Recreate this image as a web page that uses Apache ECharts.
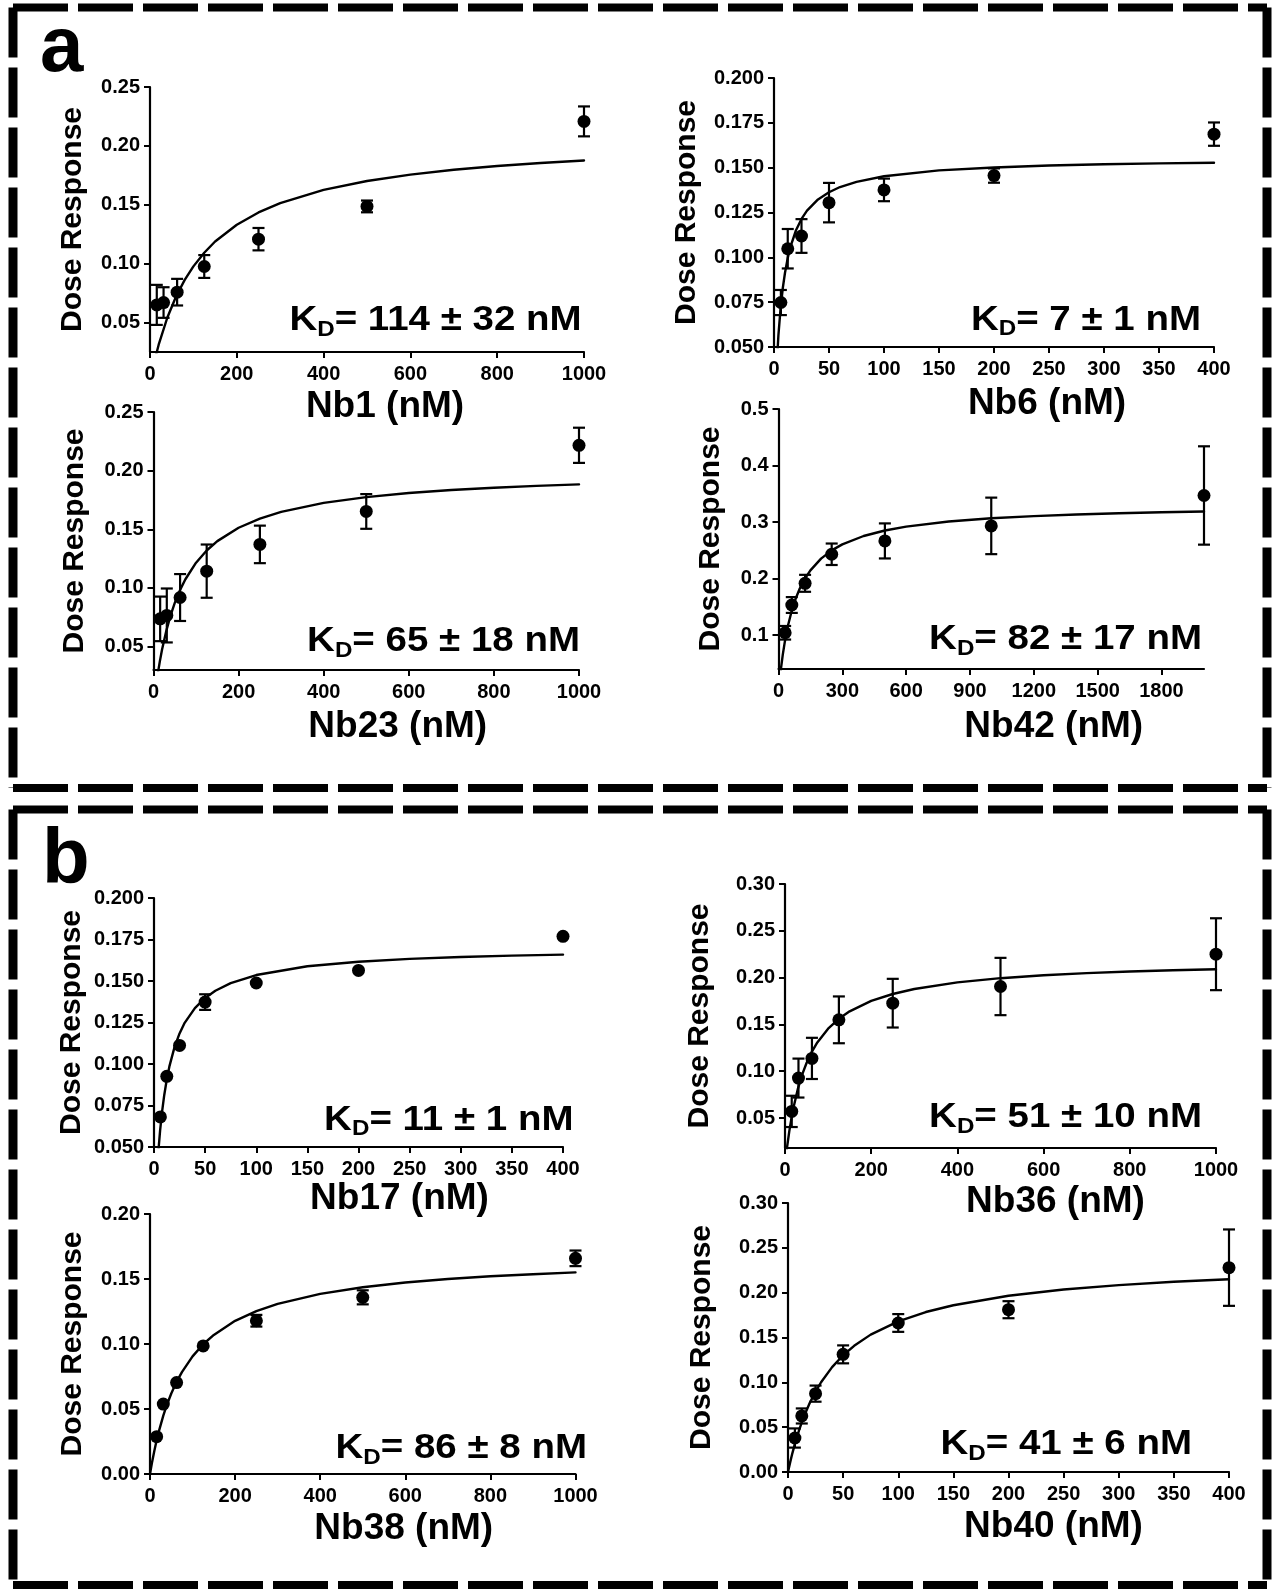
<!DOCTYPE html>
<html><head><meta charset="utf-8">
<script src="https://cdn.jsdelivr.net/npm/echarts@6/dist/echarts.min.js"></script>
<style>html,body{margin:0;padding:0;background:#fff}#chart{width:1275px;height:1589px}</style>
</head><body><div id="chart"></div>
<script>
// ---------- DATA ----------
const conc1000 = [15.625, 31.25, 62.5, 125, 250, 500, 1000];
const conc400 = [6.25, 12.5, 25, 50, 100, 200, 400];
const conc2000 = [31.25, 62.5, 125, 250, 500, 1000, 2000];

const xTicks1000 = ['0','200','400','600','800','1000'];
const xTicks400 = ['0','50','100','150','200','250','300','350','400'];
const xTicks2000 = ['0','300','600','900','1200','1500','1800'];

// Nb1
const nb1Mean = [0.065, 0.067, 0.0758, 0.0976, 0.1208, 0.1486, 0.2208];
const nb1Err = [0.017, 0.013, 0.0113, 0.0097, 0.0095, 0.005, 0.0127];
const nb1FitX = [0,10,20,40,60,80,100,125,150,200,250,300,400,500,600,700,800,900,1000];
const nb1FitY = [0,0.0169,0.0312,0.0543,0.0721,0.0862,0.0977,0.1093,0.1188,0.1331,0.1435,0.1514,0.1626,0.1702,0.1756,0.1797,0.1829,0.1855,0.1876];
const nb1YTicks = ['0.05','0.10','0.15','0.20','0.25'];
const nb1Kd = '114 ± 32';

// Nb6
const nb6Mean = [0.0748, 0.1048, 0.1119, 0.1305, 0.1376, 0.1456, 0.1687];
const nb6Err = [0.007, 0.011, 0.0094, 0.011, 0.0063, 0.004, 0.0065];
const nb6FitX = [0,2,4,6,8,10,12.5,15,20,25,30,40,50,60,75,100,150,200,250,300,350,400];
const nb6FitY = [0,0.0345,0.0565,0.0717,0.0829,0.0914,0.0996,0.1060,0.1151,0.1214,0.1260,0.1323,0.1363,0.1392,0.1421,0.1452,0.1485,0.1501,0.1512,0.1519,0.1524,0.1527];
const nb6YTicks = ['0.050','0.075','0.100','0.125','0.150','0.175','0.200'];
const nb6Kd = '7 ± 1';

// Nb23
const nb23Mean = [0.0736, 0.0765, 0.0918, 0.1143, 0.1371, 0.1652, 0.2216];
const nb23Err = [0.019, 0.023, 0.020, 0.0227, 0.016, 0.0148, 0.015];
const nb23FitX = [0,5,10,15,20,30,40,50,62.5,75,100,125,150,200,250,300,400,500,600,700,800,900,1000];
const nb23FitY = [0,0.0143,0.0267,0.0376,0.0472,0.0633,0.0764,0.0872,0.0983,0.1074,0.1215,0.1319,0.1399,0.1513,0.1591,0.1648,0.1725,0.1774,0.1809,0.1835,0.1854,0.1870,0.1883];
const nb23YTicks = ['0.05','0.10','0.15','0.20','0.25'];
const nb23Kd = '65 ± 18';

// Nb42
const nb42Mean = [0.1041, 0.1532, 0.1916, 0.2430, 0.2666, 0.2932, 0.347];
const nb42Err = [0.012, 0.014, 0.015, 0.019, 0.031, 0.050, 0.087];
const nb42FitX = [0,10,20,30,45,62.5,80,100,125,150,200,250,300,400,500,600,800,1000,1200,1400,1600,1800,2000];
const nb42FitY = [0,0.0361,0.0650,0.0888,0.1175,0.1435,0.1638,0.1823,0.2003,0.2145,0.2352,0.2498,0.2605,0.2753,0.2850,0.2918,0.3009,0.3066,0.3105,0.3133,0.3155,0.3172,0.3186];
const nb42YTicks = ['0.1','0.2','0.3','0.4','0.5'];
const nb42Kd = '82 ± 17';

// Nb17
const nb17Mean = [0.0681, 0.0926, 0.1112, 0.1373, 0.1488, 0.1564, 0.1769];
const nb17Err = [0, 0, 0, 0.0047, 0, 0, 0];
const nb17FitX = [0,2,4,6,8,10,12.5,15,20,25,30,40,50,60,75,100,150,200,250,300,350,400];
const nb17FitY = [0,0.0262,0.0455,0.0602,0.0718,0.0812,0.0907,0.0984,0.1100,0.1184,0.1248,0.1337,0.1398,0.1441,0.1487,0.1536,0.1589,0.1616,0.1633,0.1645,0.1653,0.1659];
const nb17YTicks = ['0.050','0.075','0.100','0.125','0.150','0.175','0.200'];
const nb17Kd = '11 ± 1';

// Nb36
const nb36Mean = [0.0571, 0.0927, 0.1137, 0.1549, 0.1727, 0.1905, 0.225];
const nb36Err = [0.0167, 0.0208, 0.022, 0.025, 0.026, 0.0306, 0.0384];
const nb36FitX = [0,5,10,15.6,20,30,40,50,62.5,75,100,125,150,200,250,300,400,500,600,700,800,900,1000];
const nb36FitY = [0,0.0196,0.0360,0.0515,0.0619,0.0814,0.0966,0.1088,0.1210,0.1308,0.1455,0.1560,0.1640,0.1751,0.1825,0.1878,0.1949,0.1994,0.2025,0.2048,0.2065,0.2079,0.2090];
const nb36YTicks = ['0.05','0.10','0.15','0.20','0.25','0.30'];
const nb36Kd = '51 ± 10';

// Nb38
const nb38Mean = [0.0287, 0.0538, 0.0703, 0.0985, 0.1179, 0.1359, 0.1659];
const nb38Err = [0, 0, 0, 0, 0.0045, 0.0054, 0.006];
const nb38FitX = [0,5,10,15.6,20,31.25,40,50,62.5,75,100,125,150,200,250,300,400,500,600,700,800,900,1000];
const nb38FitY = [0,0.0093,0.0175,0.0259,0.0318,0.0449,0.0535,0.0619,0.0709,0.0784,0.0905,0.0998,0.1070,0.1178,0.1253,0.1309,0.1386,0.1437,0.1473,0.1500,0.1521,0.1537,0.1551];
const nb38YTicks = ['0.00','0.05','0.10','0.15','0.20'];
const nb38Kd = '86 ± 8';

// Nb40
const nb40Mean = [0.0379, 0.0625, 0.0874, 0.1312, 0.1662, 0.181, 0.2279];
const nb40Err = [0.0107, 0.0084, 0.009, 0.010, 0.0099, 0.0095, 0.0426];
const nb40FitX = [0,2,4,6.25,10,12.5,15,20,25,30,40,50,60,75,100,125,150,200,250,300,350,400];
const nb40FitY = [0,0.0110,0.0211,0.0313,0.0465,0.0553,0.0635,0.0777,0.0897,0.1001,0.1170,0.1302,0.1407,0.1532,0.1680,0.1784,0.1860,0.1966,0.2035,0.2084,0.2121,0.2149];
const nb40YTicks = ['0.00','0.05','0.10','0.15','0.20','0.25','0.30'];
const nb40Kd = '41 ± 6';

// ---------- LAYOUT ----------
const FONT = '"Liberation Sans", Arial, Helvetica, sans-serif';
const panels = [
  {name:'Nb1 (nM)', conc:conc1000, mean:nb1Mean, err:nb1Err, fx:nb1FitX, fy:nb1FitY, xt:xTicks1000, yt:nb1YTicks, yMin:0.025, yMax:0.25, xMax:1000, kd:nb1Kd,
   g:[150,87,434,265], yGap:62, xGap:36, xShift:36, kdPos:[581.6,320.5]},
  {name:'Nb6 (nM)', conc:conc400, mean:nb6Mean, err:nb6Err, fx:nb6FitX, fy:nb6FitY, xt:xTicks400, yt:nb6YTicks, yMin:0.05, yMax:0.2, xMax:400, kd:nb6Kd,
   g:[774,78,440,269], yGap:72, xGap:38, xShift:106, kdPos:[1201,320]},
  {name:'Nb23 (nM)', conc:conc1000, mean:nb23Mean, err:nb23Err, fx:nb23FitX, fy:nb23FitY, xt:xTicks1000, yt:nb23YTicks, yMin:0.03, yMax:0.25, xMax:1000, kd:nb23Kd,
   g:[153.5,412,425.5,258], yGap:64, xGap:38, xShift:63, kdPos:[580,641.5]},
  {name:'Nb42 (nM)', conc:conc2000, mean:nb42Mean, err:nb42Err, fx:nb42FitX, fy:nb42FitY, xt:xTicks2000, yt:nb42YTicks, yMin:0.04, yMax:0.5, xMax:2000, kd:nb42Kd,
   g:[778.5,409,425.5,260], yGap:53, xGap:39, xShift:125, kdPos:[1202,639.5]},
  {name:'Nb17 (nM)', conc:conc400, mean:nb17Mean, err:nb17Err, fx:nb17FitX, fy:nb17FitY, xt:xTicks400, yt:nb17YTicks, yMin:0.05, yMax:0.2, xMax:400, kd:nb17Kd,
   g:[154,898,409,249], yGap:67, xGap:31, xShift:82, kdPos:[573.5,1120]},
  {name:'Nb36 (nM)', conc:conc1000, mean:nb36Mean, err:nb36Err, fx:nb36FitX, fy:nb36FitY, xt:xTicks1000, yt:nb36YTicks, yMin:0.018, yMax:0.30, xMax:1000, kd:nb36Kd,
   g:[785,884,431,264], yGap:70, xGap:35, xShift:110, kdPos:[1202,1117.5]},
  {name:'Nb38 (nM)', conc:conc1000, mean:nb38Mean, err:nb38Err, fx:nb38FitX, fy:nb38FitY, xt:xTicks1000, yt:nb38YTicks, yMin:0, yMax:0.20, xMax:1000, kd:nb38Kd,
   g:[150,1214,425.5,260], yGap:62, xGap:36, xShift:82, kdPos:[587,1448.5]},
  {name:'Nb40 (nM)', conc:conc400, mean:nb40Mean, err:nb40Err, fx:nb40FitX, fy:nb40FitY, xt:xTicks400, yt:nb40YTicks, yMin:0, yMax:0.30, xMax:400, kd:nb40Kd,
   g:[788,1203,441,269], yGap:71, xGap:36, xShift:90, kdPos:[1192,1444.5]}
];

function lbl(ticks, v) {
  const t = ticks.find(s => Math.abs(Number(s) - v) < 1e-9);
  return t === undefined ? '' : t;
}

function renderErr(params, api) {
  const x = api.value(0), lo = api.value(1), hi = api.value(2);
  const pHi = api.coord([x, hi]);
  const pLo = api.coord([x, lo]);
  const hw = 6;
  const st = {stroke:'#000', lineWidth:2.2};
  return {type:'group', children:[
    {type:'line', shape:{x1:pHi[0], y1:pHi[1], x2:pLo[0], y2:pLo[1]}, style:st},
    {type:'line', shape:{x1:pHi[0]-hw, y1:pHi[1], x2:pHi[0]+hw, y2:pHi[1]}, style:st},
    {type:'line', shape:{x1:pLo[0]-hw, y1:pLo[1], x2:pLo[0]+hw, y2:pLo[1]}, style:st}
  ]};
}

const grid = [], xAxis = [], yAxis = [], series = [], graphic = [];
panels.forEach((p, i) => {
  grid.push({left:p.g[0], top:p.g[1], width:p.g[2], height:p.g[3], containLabel:false, outerBoundsMode:'none'});
  const xv = p.xt.map(Number), yv = p.yt.map(Number);
  xAxis.push({
    type:'value', gridIndex:i, min:0, max:p.xMax,
    name:p.name, nameLocation:'middle', nameGap:p.xGap,
    nameTextStyle:{fontSize:37, fontWeight:'bold', color:'#000', fontFamily:FONT, padding:[0,0,0,p.xShift]},
    axisLine:{show:true, onZero:false, lineStyle:{color:'#000', width:2.2}},
    axisTick:{show:true, inside:false, length:6, lineStyle:{color:'#000', width:2}, customValues:xv},
    axisLabel:{show:true, customValues:xv, formatter:v => lbl(p.xt, v), margin:12, fontSize:20, fontWeight:'bold', color:'#000', fontFamily:FONT},
    splitLine:{show:false}
  });
  yAxis.push({
    type:'value', gridIndex:i, min:p.yMin, max:p.yMax,
    name:'Dose Response', nameLocation:'middle', nameRotate:90, nameGap:p.yGap,
    nameTextStyle:{fontSize:30, fontWeight:'bold', color:'#000', fontFamily:FONT},
    axisLine:{show:true, onZero:false, lineStyle:{color:'#000', width:2.2}},
    axisTick:{show:true, inside:false, length:6, lineStyle:{color:'#000', width:2}, customValues:yv},
    axisLabel:{show:true, customValues:yv, formatter:v => lbl(p.yt, v), margin:10, fontSize:20, fontWeight:'bold', color:'#000', fontFamily:FONT},
    splitLine:{show:false}
  });
  series.push({
    type:'line', xAxisIndex:i, yAxisIndex:i,
    data:p.fx.map((x, j) => [x, p.fy[j]]),
    symbol:'none', showSymbol:false, smooth:false, clip:true,
    lineStyle:{color:'#000', width:2.4, cap:'round', join:'round'}, silent:true, z:2
  });
  const errData = [];
  p.conc.forEach((x, j) => { if (p.err[j] > 0) errData.push([x, p.mean[j] - p.err[j], p.mean[j] + p.err[j]]); });
  series.push({
    type:'custom', xAxisIndex:i, yAxisIndex:i, data:errData, renderItem:renderErr, clip:false, silent:true, z:3
  });
  series.push({
    type:'scatter', xAxisIndex:i, yAxisIndex:i,
    data:p.conc.map((x, j) => [x, p.mean[j]]),
    symbol:'circle', symbolSize:13, clip:false, itemStyle:{color:'#000', opacity:1}, silent:true, z:4
  });
  graphic.push({
    type:'text', x:p.kdPos[0], y:p.kdPos[1], scaleX:1.1, z:10,
    style:{
      text:'{k|K}{s|D}{k|= ' + p.kd + ' nM}',
      align:'right', verticalAlign:'middle', fill:'#000',
      rich:{
        k:{fontSize:35, fontWeight:'bold', fontFamily:FONT, fill:'#000', lineHeight:44, verticalAlign:'middle'},
        s:{fontSize:22, fontWeight:'bold', fontFamily:FONT, fill:'#000', padding:[18,0,0,0], verticalAlign:'middle'}
      }
    }
  });
});

// dashed frames
function frame(x1, y1, x2, y2) {
  const h = {stroke:'#000', lineWidth:8, lineDash:[55,10]};
  const v = {stroke:'#000', lineWidth:9, lineDash:[50,10]};
  return [
    {type:'line', shape:{x1:x1, y1:y1, x2:x2, y2:y1}, style:h, silent:true},
    {type:'line', shape:{x1:x2, y1:y1, x2:x2, y2:y2}, style:v, silent:true},
    {type:'line', shape:{x1:x1, y1:y2, x2:x2, y2:y2}, style:h, silent:true},
    {type:'line', shape:{x1:x1, y1:y1, x2:x1, y2:y2}, style:v, silent:true}
  ];
}
graphic.push(...frame(13, 7.5, 1267, 788));
graphic.push(...frame(13, 809.5, 1267, 1585));
graphic.push({type:'text', x:40, y:49, style:{text:'a', fontSize:78, fontWeight:'bold', fontFamily:FONT, fill:'#000', align:'left', verticalAlign:'middle'}});
graphic.push({type:'text', x:42, y:861, style:{text:'b', fontSize:78, fontWeight:'bold', fontFamily:FONT, fill:'#000', align:'left', verticalAlign:'middle'}});

const chart = echarts.init(document.getElementById('chart'), null, {renderer:'canvas', width:1275, height:1589});
chart.setOption({
  animation:false,
  backgroundColor:'#fff',
  textStyle:{fontFamily:FONT},
  grid:grid, xAxis:xAxis, yAxis:yAxis, series:series, graphic:graphic
});
</script></body></html>
